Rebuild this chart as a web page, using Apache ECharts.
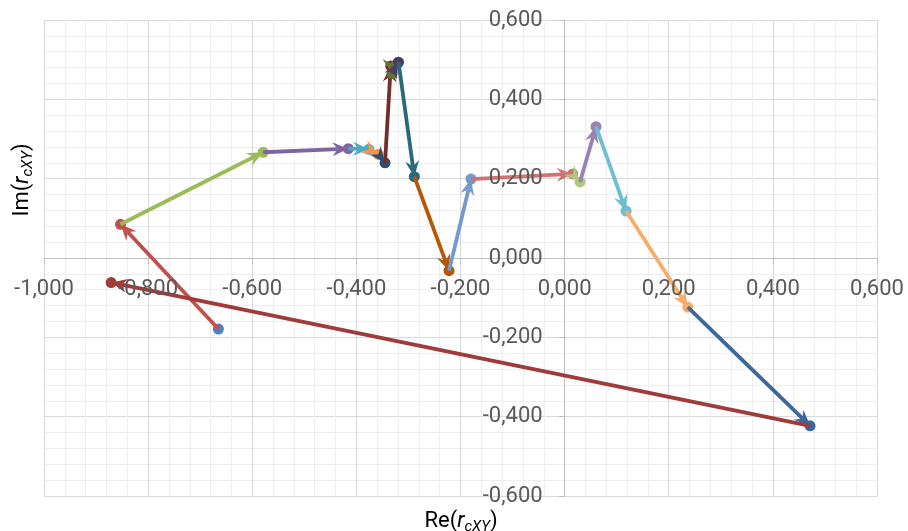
<!DOCTYPE html>
<html>
<head>
<meta charset="utf-8">
<script src="https://cdn.jsdelivr.net/npm/echarts@6/dist/echarts.min.js"></script>
<style>
  html, body { margin: 0; padding: 0; background: #ffffff; }
  #chart { width: 908px; height: 531px; }
</style>
</head>
<body>
<div id="chart"></div>
<script>
// Successive values of r_cXY in the complex plane (real part, imaginary part)
const reValues = [-0.665, -0.853, -0.579, -0.4155, -0.376, -0.358, -0.345, -0.334, -0.3315, -0.319,
                  -0.2887, -0.222, -0.1798, 0.0155, 0.0296, 0.0603, 0.118, 0.2365, 0.4714, -0.871];
const imValues = [-0.179, 0.085, 0.2666, 0.2757, 0.274, 0.2615, 0.240, 0.484, 0.465, 0.4935,
                  0.205, -0.032, 0.199, 0.212, 0.1917, 0.331, 0.1185, -0.124, -0.423, -0.062];

// Axis ranges
const xRange = { min: -1.0, max: 0.6, step: 0.2 };
const yRange = { min: -0.6, max: 0.6, step: 0.2 };

// One colour per step of the path (first entry = starting point)
const palette = ['#4F81BD', '#C0504D', '#9BBB59', '#8064A2', '#4BACC6', '#F79646',
                 '#2C4D75', '#772C2A', '#5F7530', '#4D3B62', '#276A7C', '#B65708',
                 '#729ACA', '#CD7371', '#AFC97A', '#9983B5', '#6FBDD1', '#F9AB6B',
                 '#3A679C', '#9F3B38'];

// Each item: [re from, im from, re to, im to]; the first item is the start point alone
const steps = [[reValues[0], imValues[0], reValues[0], imValues[0]]];
for (let i = 1; i < reValues.length; i++) {
  steps.push([reValues[i - 1], imValues[i - 1], reValues[i], imValues[i]]);
}

const ARROW_LEN = 16;
const ARROW_WIDTH = 14;
const NOTCH = 0.66;
const LINE_WIDTH = 3.8;
const DOT_R = 5.5;

function renderStep(params, api) {
  const a = api.coord([api.value(0), api.value(1)]);
  const b = api.coord([api.value(2), api.value(3)]);
  const color = palette[params.dataIndex % palette.length];
  const children = [];
  const dx = b[0] - a[0], dy = b[1] - a[1];
  const len = Math.hypot(dx, dy);
  if (len > 0.01) {
    const ux = dx / len, uy = dy / len;
    const nx = -uy, ny = ux;
    const notch = [b[0] - ux * ARROW_LEN * NOTCH, b[1] - uy * ARROW_LEN * NOTCH];
    const back = [b[0] - ux * ARROW_LEN, b[1] - uy * ARROW_LEN];
    if (len > ARROW_LEN * NOTCH) {
      children.push({
        type: 'line',
        shape: { x1: a[0], y1: a[1], x2: notch[0], y2: notch[1] },
        style: { stroke: color, lineWidth: LINE_WIDTH, lineCap: 'butt' }
      });
    }
    children.push({
      type: 'polygon',
      shape: {
        points: [
          b,
          [back[0] + nx * ARROW_WIDTH / 2, back[1] + ny * ARROW_WIDTH / 2],
          notch,
          [back[0] - nx * ARROW_WIDTH / 2, back[1] - ny * ARROW_WIDTH / 2]
        ]
      },
      style: { fill: color }
    });
  }
  children.push({
    type: 'circle',
    shape: { cx: b[0], cy: b[1], r: DOT_R },
    style: { fill: color }
  });
  return { type: 'group', children: children };
}

function fmt(v) {
  if (Math.abs(v) < 1e-9) v = 0;
  return v.toFixed(3).replace('.', ',');
}

const FONT = 'Roboto';
const GRID_MAJOR = '#d9d9d9';
const GRID_MINOR = '#eeeeee';
const AXIS_COLOR = '#bfbfbf';
const TEXT_COLOR = '#595959';

const CHART_W = 908, CHART_H = 531;
const gridBox = { left: 44, right: 31, top: 20, bottom: 35 };
const plotW = CHART_W - gridBox.left - gridBox.right;
const plotH = CHART_H - gridBox.top - gridBox.bottom;
// The label-only axes sit on the zero lines: shift them inward from the grid edges
const xLabelOffset = -plotH * (0 - yRange.min) / (yRange.max - yRange.min);
const yLabelOffset = -plotW * (0 - xRange.min) / (xRange.max - xRange.min);

const labelStyle = { color: TEXT_COLOR, fontFamily: FONT, fontSize: 22 };

const chart = echarts.init(document.getElementById('chart'), null, { renderer: 'canvas' });

chart.setOption({
  animation: false,
  backgroundColor: '#ffffff',
  grid: Object.assign({ containLabel: false, outerBoundsMode: 'none' }, gridBox),
  xAxis: [
    {
      type: 'value', min: xRange.min, max: xRange.max, interval: xRange.step,
      position: 'bottom',
      axisLine: { show: true, onZero: true, lineStyle: { color: AXIS_COLOR, width: 1 } },
      axisTick: { show: true, length: 6, lineStyle: { color: AXIS_COLOR } },
      axisLabel: { show: false },
      splitLine: { show: true, lineStyle: { color: GRID_MAJOR, width: 1 } },
      minorTick: { show: false, splitNumber: 5 },
      minorSplitLine: { show: true, lineStyle: { color: GRID_MINOR, width: 1 } },
      z: 0
    },
    {
      type: 'value', min: xRange.min, max: xRange.max, interval: xRange.step,
      position: 'bottom',
      offset: xLabelOffset,
      axisLine: { show: false, onZero: false },
      axisTick: { show: false },
      axisLabel: Object.assign({ show: true, margin: 20, formatter: fmt, showMinLabel: true, showMaxLabel: true }, labelStyle),
      splitLine: { show: false },
      z: 5
    }
  ],
  yAxis: [
    {
      type: 'value', min: yRange.min, max: yRange.max, interval: yRange.step,
      position: 'left',
      axisLine: { show: true, onZero: true, lineStyle: { color: AXIS_COLOR, width: 1 } },
      axisTick: { show: true, length: 6, lineStyle: { color: AXIS_COLOR } },
      axisLabel: { show: false },
      splitLine: { show: true, lineStyle: { color: GRID_MAJOR, width: 1 } },
      minorTick: { show: false, splitNumber: 5 },
      minorSplitLine: { show: true, lineStyle: { color: GRID_MINOR, width: 1 } },
      z: 0
    },
    {
      type: 'value', min: yRange.min, max: yRange.max, interval: yRange.step,
      position: 'left',
      offset: yLabelOffset,
      axisLine: { show: false, onZero: false },
      axisTick: { show: false },
      axisLabel: Object.assign({ show: true, margin: 22, formatter: fmt, showMinLabel: true, showMaxLabel: true }, labelStyle),
      splitLine: { show: false },
      z: 5
    }
  ],
  series: [
    {
      type: 'custom',
      name: 'r_cXY',
      xAxisIndex: 0,
      yAxisIndex: 0,
      renderItem: renderStep,
      encode: { x: [0, 2], y: [1, 3] },
      data: steps,
      clip: false,
      z: 2
    }
  ],
  graphic: [
    {
      type: 'text',
      x: 461, y: 521,
      z: 10,
      style: {
        text: '{n|Re(}{i|r}{s|cXY}{n|)}',
        align: 'center', verticalAlign: 'middle',
        rich: {
          n: { fontFamily: FONT, fontSize: 22, color: TEXT_COLOR },
          i: { fontFamily: FONT, fontSize: 22, fontStyle: 'italic', color: TEXT_COLOR },
          s: { fontFamily: FONT, fontSize: 15, fontStyle: 'italic', color: TEXT_COLOR, padding: [12, 0, 0, 0] }
        }
      }
    },
    {
      type: 'text',
      x: 22, y: 180,
      rotation: Math.PI / 2,
      z: 10,
      style: {
        text: '{n|Im(}{i|r}{s|cXY}{n|)}',
        align: 'center', verticalAlign: 'middle',
        rich: {
          n: { fontFamily: FONT, fontSize: 22, color: TEXT_COLOR },
          i: { fontFamily: FONT, fontSize: 22, fontStyle: 'italic', color: TEXT_COLOR },
          s: { fontFamily: FONT, fontSize: 15, fontStyle: 'italic', color: TEXT_COLOR, padding: [12, 0, 0, 0] }
        }
      }
    }
  ]
});
</script>
</body>
</html>
